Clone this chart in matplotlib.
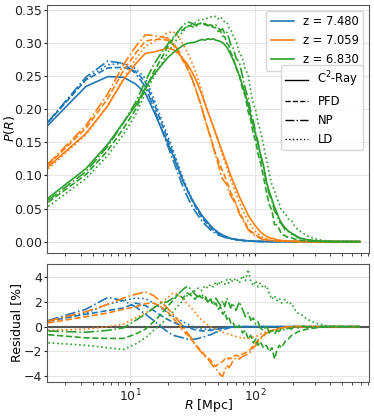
import matplotlib
matplotlib.use("Agg")
import matplotlib.pyplot as plt
from matplotlib.lines import Line2D
import numpy as np

# ---------------- data ----------------
R = [2.2, 4.4, 6.6, 8.8, 11.0, 13.2, 15.4, 17.6, 19.8, 22.0, 24.2, 26.4, 28.6, 30.8, 33.0,
     35.2, 37.4, 39.6, 41.8, 44.0, 46.2, 48.4, 50.6, 52.8, 55.0, 57.2, 59.4, 61.6, 63.8, 66.0,
     70.4, 74.8, 79.2, 83.6, 88.0, 92.4, 96.8, 101.2, 105.6, 110.0,
     116.6, 123.2, 129.8, 136.4, 143.0, 149.6, 156.2, 162.8,
     173.8, 184.8, 195.8, 206.8, 220.0, 239.8, 259.6, 281.6, 303.6, 330.0,
     363.0, 396.0, 440.0, 495.0, 550.0, 616.0, 693.0]

redshifts = ["7.480", "7.059", "6.830"]
methods = ["C$^2$-Ray", "PFD", "NP", "LD"]

# C2Ray P(R)
p_c2ray_z748 = [.176, .234, .249, .248, .238, .224, .197, .172, .150, .130, .110, .092, .078, .066, .056,
                .048, .040, .034, .029, .024, .020, .017, .014, .012, .010, .0085, .0072, .006, .005, .0043,
                .0033, .0025, .0019, .0015, .0012, .0009, .0007, .0005, .0004, .0003,
                .0002, .00015, .0001, .0001, .00005, 0, 0, 0,
                0, 0, 0, 0, 0, 0, 0, 0, 0, 0,
                0, 0, 0, 0, 0, 0, 0]
p_c2ray_z7059 = [.113, .163, .205, .244, .268, .284, .286, .289, .292, .290, .284, .276, .268, .258, .247,
                 .235, .222, .208, .196, .185, .174, .163, .153, .143, .134, .125, .117, .108, .100, .093,
                 .080, .068, .058, .049, .040, .034, .028, .023, .019, .015,
                 .011, .008, .006, .005, .004, .0028, .0022, .0018,
                 .0013, .0009, .0006, .0004, .0003, .0002, .0001, 0, 0, 0,
                 0, 0, 0, 0, 0, 0, 0]
p_c2ray_z683 = [.066, .110, .147, .180, .205, .232, .252, .265, .277, .285, .291, .296, .299, .300, .301,
                .303, .305, .304, .306, .305, .306, .304, .303, .302, .300, .297, .293, .288, .282, .276,
                .264, .250, .236, .222, .206, .190, .175, .161, .147, .133,
                .115, .090, .076, .064, .052, .044, .034, .028,
                .021, .016, .013, .010, .007, .0045, .003, .002, .0012, .0007,
                .0004, .0002, .0001, .00005, 0, 0, 0]

# Residuals [%] relative to C2Ray
res_pfd_z748 = [0.45, 1.0, 1.3, 1.5, 1.9, 1.7, 1.3, 0.9, 0.6, 0.35, 0.2, 0.05, -0.05, -0.15, -0.25,
                -0.3, -0.35, -0.35, -0.3, -0.3, -0.25, -0.2, -0.2, -0.15, -0.1, -0.1, -0.05, -0.05, 0, 0,
                0, 0, 0, 0, 0, 0, 0, 0, 0, 0,
                0, 0, 0, 0, 0, 0, 0, 0,
                0, 0, 0, 0, 0, 0, 0, 0, 0, 0,
                0, 0, 0, 0, 0, 0, 0]
res_np_z748 = [0.5, 1.4, 2.35, 2.1, 1.6, 1.0, 0.5, 0.0, -0.4, -0.7, -0.8, -0.9, -1.0, -1.05, -1.0,
               -0.95, -0.85, -0.8, -0.7, -0.65, -0.55, -0.45, -0.4, -0.3, -0.25, -0.2, -0.15, -0.1, -0.05, -0.03,
               -0.02, 0, 0, 0, 0, 0, 0, 0, 0, 0,
               0, 0, 0, 0, 0, 0, 0, 0,
               0, 0, 0, 0, 0, 0, 0, 0, 0, 0,
               0, 0, 0, 0, 0, 0, 0]
res_ld_z748 = [0.4, 1.1, 1.8, 2.1, 2.3, 2.25, 1.9, 1.5, 1.15, 0.85, 0.6, 0.4, 0.2, 0.05, -0.05,
               -0.15, -0.2, -0.2, -0.2, -0.2, -0.2, -0.18, -0.15, -0.15, -0.12, -0.1, -0.08, -0.06, -0.05, -0.04,
               -0.03, -0.02, 0, 0, 0, 0, 0, 0, 0, 0,
               0, 0, 0, 0, 0, 0, 0, 0,
               0, 0, 0, 0, 0, 0, 0, 0, 0, 0,
               0, 0, 0, 0, 0, 0, 0]

res_pfd_z7059 = [0.3, 0.8, 1.1, 1.4, 1.6, 1.85, 1.9, 1.6, 1.2, 0.7, 0.2, -0.3, -0.65, -1.0, -1.4,
                 -1.7, -2.0, -2.3, -2.5, -2.7, -3.0, -3.2, -3.0, -2.9, -2.8, -2.6, -2.7, -2.5, -2.6, -2.4,
                 -2.3, -2.4, -2.2, -2.1, -2.0, -1.8, -1.5, -1.3, -1.1, -0.9,
                 -0.7, -0.5, -0.4, -0.3, -0.25, -0.2, -0.15, -0.1,
                 -0.05, -0.03, 0, 0, 0, 0, 0, 0, 0, 0,
                 0, 0, 0, 0, 0, 0, 0]
res_np_z7059 = [0.45, 1.2, 1.8, 2.3, 2.6, 2.8, 2.5, 2.0, 1.5, 1.0, 0.5, 0.0, -0.5, -0.9, -1.4,
                -1.8, -2.1, -2.4, -2.6, -2.9, -3.2, -3.4, -3.6, -3.9, -4.0, -3.5, -3.1, -3.3, -3.1, -2.8,
                -2.5, -2.6, -2.4, -2.3, -2.2, -2.0, -1.7, -1.5, -1.2, -1.0,
                -0.8, -0.5, -0.45, -0.35, -0.3, -0.2, -0.15, -0.1,
                -0.05, -0.03, 0, 0, 0, 0, 0, 0, 0, 0,
                0, 0, 0, 0, 0, 0, 0]
res_ld_z7059 = [-0.3, -0.2, 0.0, 0.2, 0.7, 1.1, 1.5, 1.9, 2.3, 2.7, 2.6, 2.2, 1.85, 1.5, 1.15,
                0.8, 0.55, 0.3, 0.15, 0.0, -0.1, -0.2, -0.3, -0.35, -0.45, -0.5, -0.55, -0.6, -0.65, -0.7,
                -0.8, -0.85, -0.95, -0.9, -0.95, -0.9, -0.85, -0.8, -0.7, -0.6,
                -0.5, -0.4, -0.35, -0.3, -0.25, -0.2, -0.15, -0.1,
                -0.08, -0.05, -0.03, 0, 0, 0, 0, 0, 0, 0,
                0, 0, 0, 0, 0, 0, 0]

res_pfd_z683 = [-0.65, -0.9, -0.95, -0.95, -0.6, -0.2, 0.4, 1.0, 1.6, 2.1, 2.6, 2.3, 2.7, 2.5, 2.2,
                2.6, 2.3, 2.5, 2.0, 2.2, 1.7, 1.9, 1.4, 1.6, 1.0, 1.2, 0.6, 0.8, 0.3, 0.4,
                -0.2, 0.1, -0.5, -0.3, -1.0, -0.7, -1.3, -1.0, -1.5, -1.2,
                -1.7, -1.5, -2.0, -1.7, -2.6, -1.9, -1.5, -1.7,
                -1.2, -1.0, -0.7, -0.6, -0.4, -0.3, -0.2, -0.15, -0.1, -0.05,
                -0.03, 0, 0, 0, 0, 0, 0]
res_np_z683 = [-0.35, -0.45, -0.3, -0.1, 0.5, 1.0, 1.5, 1.9, 2.0, 2.3, 2.6, 3.0, 3.25, 3.0, 2.6,
               2.4, 2.6, 2.3, 2.0, 2.2, 1.9, 2.3, 2.0, 1.7, 2.1, 1.6, 2.3, 1.9, 1.5, 1.9,
               1.3, 2.0, 1.4, 0.8, 1.1, 0.5, 0.7, 0.2, 0.4, -0.1,
               -0.3, 0.1, -0.5, -0.2, -0.6, -0.3, -0.4, -0.1,
               -0.3, -0.1, -0.2, 0.05, -0.1, 0.05, -0.05, 0.03, -0.02, 0,
               0, 0, 0, 0, 0, 0, 0]
res_ld_z683 = [-1.3, -1.5, -1.7, -1.85, -1.4, -0.9, -0.3, 0.2, 0.7, 1.2, 1.7, 2.1, 2.5, 2.7, 2.9,
               3.1, 2.9, 3.3, 3.1, 3.4, 3.2, 3.6, 3.3, 3.7, 3.5, 3.4, 3.8, 3.5, 3.9, 3.6,
               3.9, 3.5, 4.1, 3.7, 4.6, 3.6, 3.3, 3.7, 3.2, 3.5,
               3.1, 3.3, 2.7, 2.2, 2.5, 2.1, 2.3, 1.9,
               2.2, 1.8, 1.9, 1.4, 1.1, 0.9, 0.6, 0.45, 0.3, 0.2,
               0.1, 0.05, 0.02, 0, 0, 0, 0]

colors = ["#1f77b4", "#ff7f0e", "#2ca02c"]
styles = ["-", "--", "-.", ":"]

c2ray = [p_c2ray_z748, p_c2ray_z7059, p_c2ray_z683]
residuals = [[res_pfd_z748, res_np_z748, res_ld_z748],
             [res_pfd_z7059, res_np_z7059, res_ld_z7059],
             [res_pfd_z683, res_np_z683, res_ld_z683]]

# ---------------- plot ----------------
plt.rcParams["font.family"] = ["DejaVu Sans"]
plt.rcParams["font.size"] = 9
plt.rcParams["axes.edgecolor"] = "#555555"
plt.rcParams["xtick.color"] = "#222222"
plt.rcParams["ytick.color"] = "#222222"

fig = plt.figure(figsize=(3.74, 4.16), dpi=100)
ax1 = fig.add_axes([0.127, 0.392, 0.86, 0.596])
ax2 = fig.add_axes([0.127, 0.0825, 0.86, 0.2825], sharex=ax1)

Rarr = np.array(R)
for ci in range(3):
    base = np.array(c2ray[ci])
    ax1.plot(Rarr, base, color=colors[ci], ls=styles[0], lw=1.2)
    for mi in range(3):
        res = np.array(residuals[ci][mi])
        ax1.plot(Rarr, base + res / 100.0, color=colors[ci], ls=styles[mi + 1], lw=1.2)
        ax2.plot(Rarr, res, color=colors[ci], ls=styles[mi + 1], lw=1.2)

ax2.axhline(0, color="#555555", lw=1.5, zorder=1)

ax1.set_xscale("log")
ax1.set_xlim(2.17, 820)
for ax in (ax1, ax2):
    ax.grid(True, which="major", color="#e6e6e6", lw=0.8)
    ax.set_axisbelow(True)
    ax.tick_params(which="major", labelsize=9, length=2.5, width=0.8, pad=1.5)
    ax.tick_params(which="minor", length=1.8, width=0.6)
ax1.tick_params(labelbottom=False)
ax1.set_yticks([0.0, 0.05, 0.10, 0.15, 0.20, 0.25, 0.30, 0.35])
ax2.set_yticks([-4, -2, 0, 2, 4])

ax1.set_ylabel("$P(R)$", fontsize=9)
ax1.yaxis.set_label_coords(-0.095, 0.5)
ax2.set_ylabel("Residual [%]", fontsize=9)
ax2.yaxis.set_label_coords(-0.077, 0.5)
ax2.set_xlabel("$R$ [Mpc]", fontsize=9)
ax2.xaxis.set_label_coords(0.5, -0.13)

h1 = [Line2D([], [], color=c, ls="-", lw=1.2) for c in colors]
leg1 = ax1.legend(h1, ["z = " + z for z in redshifts], loc="upper right",
                  fontsize=8.3)
ax1.add_artist(leg1)
h2 = [Line2D([], [], color="black", ls=s, lw=1.0) for s in styles]
ax1.legend(h2, methods, loc="upper right", bbox_to_anchor=(1.0, 0.781),
           fontsize=8.3)

fig.savefig("out.png", dpi=100)
